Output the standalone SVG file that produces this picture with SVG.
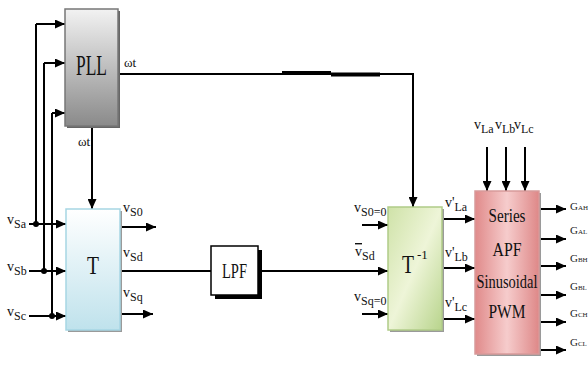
<svg xmlns="http://www.w3.org/2000/svg" width="588" height="365" viewBox="0 0 588 365">
<defs>
<linearGradient id="gPLL" x1="0" y1="0" x2="0" y2="1"><stop offset="0" stop-color="#f2f2f2"/><stop offset="1" stop-color="#8a8a8a"/></linearGradient>
<linearGradient id="gT" x1="0" y1="0" x2="0" y2="1"><stop offset="0" stop-color="#ffffff"/><stop offset="1" stop-color="#bfe2ec"/></linearGradient>
<linearGradient id="gTi" x1="0" y1="0" x2="1" y2="1"><stop offset="0" stop-color="#cfe2a8"/><stop offset="0.5" stop-color="#eef5d8"/><stop offset="1" stop-color="#b8d48c"/></linearGradient>
<linearGradient id="gS" x1="0" y1="0" x2="1" y2="0"><stop offset="0" stop-color="#e08a8a"/><stop offset="0.5" stop-color="#f6cccc"/><stop offset="1" stop-color="#de8888"/></linearGradient>
<marker id="ar" markerUnits="userSpaceOnUse" markerWidth="10" markerHeight="9" refX="10" refY="4.5" orient="auto"><path d="M0,0 L10,4.5 L0,9 z" fill="#000"/></marker>
</defs>
<style>
.ln{fill:none;stroke:#000;stroke-width:2}
.a{marker-end:url(#ar)}
.t{font-family:"Liberation Serif",serif;fill:#111}
.lb{font-family:"Liberation Serif",serif;font-size:14px;fill:#111}
.sub{font-size:12px}
.g{font-family:"Liberation Serif",serif;font-size:11px;fill:#222}
.gs{font-size:7px}
</style>

<g id="connectors">
<path class="ln a" d="M36,24 H65"/>
<path class="ln a" d="M44,63 H65"/>
<path class="ln a" d="M52,113 H65"/>
<path class="ln" d="M36,24 V224"/>
<path class="ln" d="M44,63 V271"/>
<path class="ln" d="M52,113 V316"/>
<circle cx="36" cy="224" r="3"/>
<circle cx="44" cy="271" r="3"/>
<circle cx="52" cy="316" r="3"/>
<path class="ln a" d="M29,224 H66"/>
<path class="ln a" d="M29,271 H66"/>
<path class="ln a" d="M29,316 H66"/>
<path class="ln a" d="M92,126 V209"/>
<path class="ln a" d="M118,74 H413 V207"/>
<path d="M282,73 H331" stroke="#000" stroke-width="4"/>
<path d="M331,74.5 H380" stroke="#000" stroke-width="4"/>
<path class="ln a" d="M121,227 H156"/>
<path class="ln" d="M121,271 H211"/>
<path class="ln a" d="M121,314 H153"/>
<path class="ln a" d="M258,271 H388"/>
<path class="ln a" d="M362,225 H388"/>
<path class="ln a" d="M362,314 H388"/>
<path class="ln a" d="M442,219 H475"/>
<path class="ln a" d="M442,268 H475"/>
<path class="ln a" d="M442,319 H475"/>
<path class="ln a" d="M487,147 V191"/>
<path class="ln a" d="M506,147 V191"/>
<path class="ln a" d="M525,147 V191"/>
<path class="ln a" d="M539,209 H566"/>
<path class="ln a" d="M539,239 H566"/>
<path class="ln a" d="M539,266 H566"/>
<path class="ln a" d="M539,295 H566"/>
<path class="ln a" d="M539,322 H566"/>
<path class="ln a" d="M539,350 H566"/>
</g>

<g id="PLL">
<rect x="67" y="11" width="53" height="117" fill="#666"/>
<rect x="65" y="9" width="53" height="117" fill="url(#gPLL)" stroke="#777" stroke-width="1.5"/>
<text class="t" transform="translate(91.5,75) scale(0.6,1)" x="0" y="0" font-size="29" text-anchor="middle">PLL</text>
<text class="t" x="124" y="67" font-size="13">ωt</text>
<text class="t" x="78" y="146" font-size="13">ωt</text>
</g>

<g id="T">
<rect x="68" y="211" width="54" height="121" fill="#9a9a9a"/>
<rect x="66" y="209" width="54" height="121" fill="url(#gT)" stroke="#a6d6e4" stroke-width="1.5"/>
<text class="t" x="93" y="274" font-size="25" text-anchor="middle" textLength="12" lengthAdjust="spacingAndGlyphs">T</text>
</g>

<g id="inputs-left">
<text class="lb" x="7" y="224">v<tspan class="sub" dy="4">Sa</tspan></text>
<text class="lb" x="7" y="271">v<tspan class="sub" dy="4">Sb</tspan></text>
<text class="lb" x="7" y="316">v<tspan class="sub" dy="4">Sc</tspan></text>
</g>

<g id="T-outputs">
<text class="lb" x="123" y="212">v<tspan class="sub" dy="4">S0</tspan></text>
<text class="lb" x="123" y="257">v<tspan class="sub" dy="4">Sd</tspan></text>
<text class="lb" x="123" y="297">v<tspan class="sub" dy="4">Sq</tspan></text>
</g>

<g id="LPF">
<rect x="215" y="250" width="47" height="49" fill="#000"/>
<rect x="211" y="246" width="47" height="49" fill="#fff" stroke="#000" stroke-width="1.5"/>
<text class="t" x="234.5" y="278" font-size="20" text-anchor="middle" textLength="25" lengthAdjust="spacingAndGlyphs">LPF</text>
</g>

<g id="Tinv">
<rect x="390" y="209" width="54" height="123" fill="#9a9a9a"/>
<rect x="388" y="207" width="54" height="123" fill="url(#gTi)" stroke="#b0cc88" stroke-width="1.5"/>
<text class="t" x="408" y="273" font-size="25" text-anchor="middle" textLength="12" lengthAdjust="spacingAndGlyphs">T</text>
<text class="t" x="417" y="259" font-size="13">-1</text>
</g>

<g id="Tinv-inputs">
<text class="lb" x="354" y="212">v<tspan class="sub" dy="4">S0=0</tspan></text>
<text class="lb" x="355" y="256"><tspan text-decoration="overline">v</tspan><tspan class="sub" dy="4">Sd</tspan></text>
<text class="lb" x="354" y="301">v<tspan class="sub" dy="4">Sq=0</tspan></text>
</g>

<g id="Tinv-outputs">
<text class="lb" x="445" y="207">v'<tspan class="sub" dy="4">La</tspan></text>
<text class="lb" x="445" y="257">v'<tspan class="sub" dy="4">Lb</tspan></text>
<text class="lb" x="445" y="307">v'<tspan class="sub" dy="4">Lc</tspan></text>
</g>

<g id="SeriesAPF">
<rect x="477" y="193" width="64" height="163" fill="#9a9a9a"/>
<rect x="475" y="191" width="64" height="163" fill="url(#gS)" stroke="#d89a9a" stroke-width="1.5"/>
<text class="t" x="507" y="222" font-size="19" text-anchor="middle" textLength="37" lengthAdjust="spacingAndGlyphs">Series</text>
<text class="t" x="507" y="256" font-size="19" text-anchor="middle" textLength="29" lengthAdjust="spacingAndGlyphs">APF</text>
<text class="t" x="507" y="288" font-size="19" text-anchor="middle" textLength="61" lengthAdjust="spacingAndGlyphs">Sinusoidal</text>
<text class="t" x="507" y="318" font-size="19" text-anchor="middle" textLength="37" lengthAdjust="spacingAndGlyphs">PWM</text>
</g>

<g id="load-inputs">
<text class="lb" x="474" y="129">v<tspan class="sub" dy="4">La</tspan></text>
<text class="lb" x="495" y="129">v<tspan class="sub" dy="4">Lb</tspan></text>
<text class="lb" x="514" y="129">v<tspan class="sub" dy="4">Lc</tspan></text>
</g>

<g id="gate-outputs">
<text class="g" x="570" y="210">G<tspan class="gs">AH</tspan></text>
<text class="g" x="570" y="234">G<tspan class="gs">AL</tspan></text>
<text class="g" x="570" y="262">G<tspan class="gs">BH</tspan></text>
<text class="g" x="570" y="290">G<tspan class="gs">BL</tspan></text>
<text class="g" x="570" y="317">G<tspan class="gs">CH</tspan></text>
<text class="g" x="570" y="346">G<tspan class="gs">CL</tspan></text>
</g>
</svg>
